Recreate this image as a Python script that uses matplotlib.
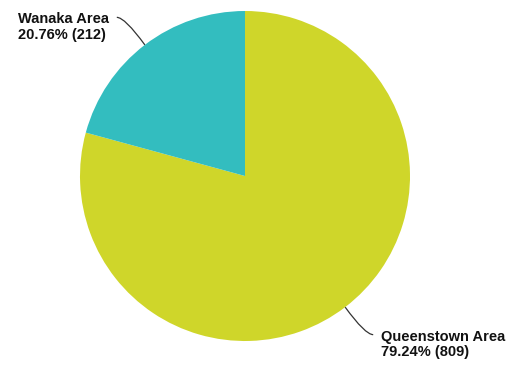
import numpy as np
import matplotlib
matplotlib.use("Agg")
import matplotlib.pyplot as plt
from matplotlib.path import Path
from matplotlib.patches import PathPatch

labels = ["Queenstown Area", "Wanaka Area"]
counts = [809, 212]
colors = ["#CFD62A", "#33BDBF"]

W, H, DPI = 508, 365, 100
fig = plt.figure(figsize=(W / DPI, H / DPI), dpi=DPI)
ax = fig.add_axes([0, 0, 1, 1])

# pie geometry in pixels: centre and radius
cx, cy, R = 245.0, 176.0, 165.0
px = 1.0 / R  # data units per pixel

wedges, _ = ax.pie(counts, colors=colors, startangle=90, counterclock=False,
                   radius=1.0, center=(0, 0), frame=True,
                   wedgeprops=dict(linewidth=0))
ax.set_xlim(-cx * px, (W - cx) * px)
ax.set_ylim(-(H - cy) * px, cy * px)
ax.set_aspect("equal")
ax.axis("off")

total = sum(counts)
for w, lab, n in zip(wedges, labels, counts):
    mid = np.deg2rad((w.theta1 + w.theta2) / 2)
    ex, ey = np.cos(mid), np.sin(mid)
    kx, ky = 1.2 * ex, 1.21 * ey
    side = np.sign(ex)
    tx, ty = kx + side * 8 * px, ky
    path = Path([(ex, ey), (kx, ky), (tx, ty)],
                [Path.MOVETO, Path.CURVE3, Path.CURVE3])
    ax.add_patch(PathPatch(path, fill=False, edgecolor="#333333", lw=0.9))
    pct = 100 * n / total
    ax.text(tx + side * 8 * px, ty + 5 * px, f"{lab}\n{pct:.2f}% ({n})",
            ha="left" if side > 0 else "right", va="top",
            multialignment="left", family="Liberation Sans",
            fontweight="bold", fontsize=10.5, linespacing=1.12,
            color="#111111")

fig.savefig("out.png", dpi=DPI, facecolor="white")
